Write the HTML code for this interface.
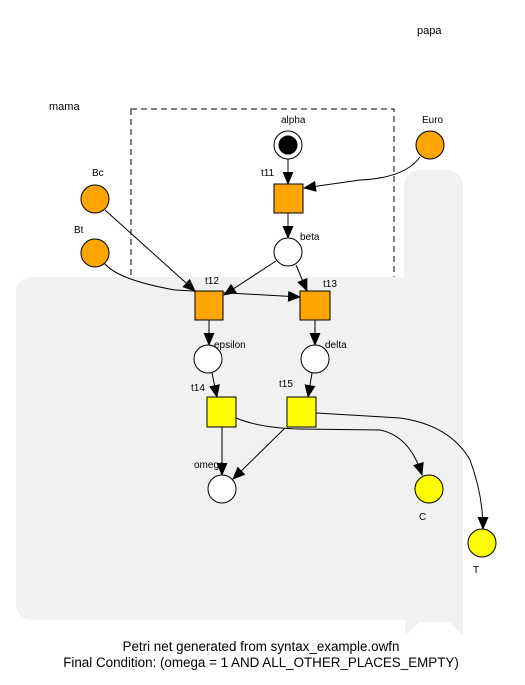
<!DOCTYPE html>
<html><head><style>
body{margin:0;width:525px;height:680px;background:#fff;overflow:hidden}
text{font-family:"Liberation Sans",sans-serif;font-size:10px;fill:#000}
</style></head><body>
<svg width="525" height="680" viewBox="0 0 525 680">
<defs><marker id="a" markerWidth="13" markerHeight="11" refX="12" refY="5.5" orient="auto" markerUnits="userSpaceOnUse"><path d="M0,0 L13,5.5 L0,11 z" fill="#000"/></marker></defs>
<rect x="131" y="109" width="263" height="180" fill="none" stroke="#000" stroke-dasharray="6,4"/>
<path d="M16,295 Q16,277 34,277 L404,277 L404,188 Q404,170 422,170 L446,170 Q463,170 463,188 L463,636 L450,622 L419,622 L405,636 L405,620 L34,620 Q16,620 16,602 Z" fill="#f1f1f1"/>
<text x="49" y="110" style="font-size:11px">mama</text>
<text x="417" y="34" style="font-size:11px">papa</text>
<g stroke="#000" fill="none" stroke-width="1">
<path d="M288,159 L288,184" marker-end="url(#a)"/>
<path d="M420,157 Q405,178 360,180 L304,188" marker-end="url(#a)"/>
<path d="M288,213 L288,238" marker-end="url(#a)"/>
<path d="M105,210 L195,291" marker-end="url(#a)"/>
<path d="M104,263 Q118,280 175,290 L300,297" marker-end="url(#a)"/>
<path d="M276,261 L224,295" marker-end="url(#a)"/>
<path d="M296,265 L307,291" marker-end="url(#a)"/>
<path d="M209,320 L209,345" marker-end="url(#a)"/>
<path d="M315,320 L315,345" marker-end="url(#a)"/>
<path d="M212,373 L217,397" marker-end="url(#a)"/>
<path d="M312,373 L308,397" marker-end="url(#a)"/>
<path d="M222,427 L222,475" marker-end="url(#a)"/>
<path d="M285,428 L233,479" marker-end="url(#a)"/>
<path d="M236,418 Q260,428 300,429 L380,430 Q410,436 422,475" marker-end="url(#a)"/>
<path d="M316,413 L400,418 Q450,425 470,460 Q483,495 483,529" marker-end="url(#a)"/>
</g>
<g stroke="#000" stroke-width="1">
<circle cx="95" cy="199" r="14" fill="#ffa500"/>
<circle cx="95" cy="253" r="14" fill="#ffa500"/>
<circle cx="430" cy="145" r="14" fill="#ffa500"/>
<circle cx="288" cy="145" r="14" fill="#fff"/>
<circle cx="288" cy="145" r="9" fill="#000"/>
<rect x="274" y="184" width="29" height="29" fill="#ffa500"/>
<circle cx="288" cy="252" r="14" fill="#fff"/>
<rect x="195" y="291" width="28" height="29" fill="#ffa500"/>
<rect x="300" y="291" width="30" height="29" fill="#ffa500"/>
<circle cx="208" cy="359" r="14" fill="#fff"/>
<circle cx="315" cy="359" r="14" fill="#fff"/>
<rect x="207" y="397" width="29" height="30" fill="#ffff00"/>
<rect x="287" y="397" width="29" height="30" fill="#ffff00"/>
<circle cx="222" cy="489" r="14" fill="#fff"/>
<circle cx="429" cy="489" r="14" fill="#ffff00"/>
<circle cx="482" cy="543" r="14" fill="#ffff00"/>
</g>
<text x="281" y="123">alpha</text>
<text x="422" y="123">Euro</text>
<text x="92" y="176">Bc</text>
<text x="74" y="233">Bt</text>
<text x="261" y="176">t11</text>
<text x="300" y="240">beta</text>
<text x="205" y="284">t12</text>
<text x="323" y="287">t13</text>
<text x="214" y="348">epsilon</text>
<text x="325" y="348">delta</text>
<text x="191" y="391">t14</text>
<text x="279" y="387">t15</text>
<text x="194" y="468">omega</text>
<text x="419" y="520">C</text>
<text x="473" y="573">T</text>
<text x="261" y="651" text-anchor="middle" style="font-size:13.4px">Petri net generated from syntax_example.owfn</text>
<text x="261" y="667" text-anchor="middle" style="font-size:13.4px">Final Condition: (omega = 1 AND ALL_OTHER_PLACES_EMPTY)</text>
</svg>
</body></html>
